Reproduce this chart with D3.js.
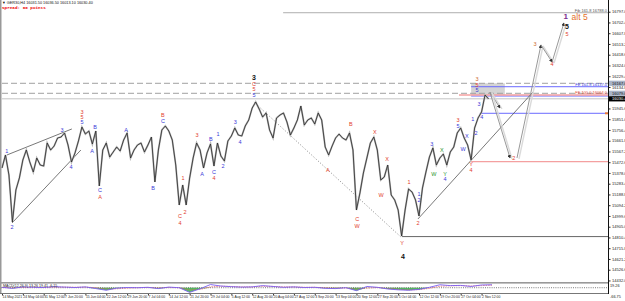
<!DOCTYPE html>
<html><head><meta charset="utf-8">
<script src="https://cdn.jsdelivr.net/npm/d3@7"></script>
<style>body{margin:0;background:#fff}svg{display:block;font-family:"Liberation Sans",Arial,sans-serif}</style>
</head><body><svg id="c" width="625" height="301"></svg>
<script>
// ---------- DATA ----------
const closes = [15421.6,15536,15360,14946.4,15228,15333.6,15492,15580,15474.4,15386.4,
15509.6,15448,15439.2,15641.6,15580,15615.2,15685.6,15694.4,15729.6,15624,
15474.4,15553.6,15659.2,15782.4,15720.8,15747.2,15632.8,15747.2,15263.2,15580,
15641.6,15518.4,15562.4,15606.4,15571.2,15668,15729.6,15509.6,15580,15624,
15641.6,15562.4,15624,15694.4,15298.4,15580,15756,15791.2,15747.2,15668,
15448,15096,15272,15096,15333.6,15509.6,15641.6,15580,15421.6,15553.6,
15632.8,15439.2,15641.6,15527.2,15483.2,15659.2,15703.2,15773.6,15712,15703.2,
15791.2,15844,15949.6,16002.4,15940.8,15870.4,15905.6,15756,15685.6,15861.6,
15888,15905.6,15826.4,15712,15773.6,15844,15967.2,15800,15844,15861.6,
15808.8,15905.6,15844,15606.4,15536,15615.2,15685.6,15720.8,15685.6,15668,
15729.6,15580,15052,15201.6,15377.6,15509.6,15641.6,15694.4,15580,15316,
15342.4,15448,15184,15140,15052,14823,15052,15236.8,15210.4,15140,
14999.2,15245.6,15386.4,15518.4,15597.6,15448,15509.6,15544.8,15448,15562.4,
15606.4,15729.6,15773.6,15685.6,15624,15492,15773.6,15861.6,15914.4,16064,16030.4];

const priceTicks = [16797.0,16702.4,16607.8,16513.2,16418.6,16324.0,16229.4,16134.8,16040.2,15945.6,
15851.0,15756.4,15661.8,15567.2,15472.6,15378.0,15283.4,15188.8,15094.2,14999.6,
14905.0,14810.4,14715.8,14621.2,14526.6,14432.0];

const timeLabels = ["14 May 2021","24 May 04:00","31 May 12:00","7 Jun 20:00","15 Jun 04:00","22 Jun 12:00",
"29 Jun 20:00","7 Jul 04:00","14 Jul 12:00","21 Jul 20:00","29 Jul 04:00","5 Aug 12:00","12 Aug 20:00",
"20 Aug 04:00","27 Aug 12:00","3 Sep 20:00","13 Sep 04:00","20 Sep 12:00","27 Sep 20:00","5 Oct 04:00",
"12 Oct 12:00","19 Oct 20:00","27 Oct 04:00","2 Nov 12:00"];
const barsPerLabel = 6;

const osc = [2,-3,4,2,1,5,3,1,4,-4,-12,-2,1,0,2,-4,3,0,-22,-5,15,8,5,3,4,10,6,2,4,1,
2,-3,-4,0,-14,6,2,-6,-10,-12,-8,2,14,10,11,6,13,14];
const oscSignal = [1,0,1,2,1,3,3,2,3,0,-6,-5,-2,0,1,-1,1,0,-10,-8,4,7,6,4,4,7,6,4,4,2,
2,0,-2,-1,-7,-2,1,-3,-7,-10,-9,-3,7,9,10,8,10,12];
const oscStep = 3;
const oscTicks = [19.26, -66.75];

// wave labels: [bar index, price, text, colour key, degree]
const waveLabels = [
[1.4,15571,"1","b"],[2.9,14902,"2","b"],[17.3,15756,"3","b"],[19.9,15430,"4","b"],
[23.0,15917,"3","r"],[23.0,15873,"5","r"],[23.0,15829,"5","b"],
[25.9,15571,"A","b"],[26.8,15782,"B","b"],[28.2,15228,"C","b"],[28.2,15166,"A","r"],
[35.7,15756,"A","b"],[43.5,15246,"B","b"],[46.3,15888,"B","r"],[46.3,15835,"C","b"],
[51.2,14999,"C","r"],[51.2,14938,"4","r"],[52.1,15334,"1","r"],[52.7,15034,"2","r"],
[56.1,15712,"3","r"],[57.6,15369,"A","b"],[60.1,15677,"B","b"],[61.0,15386,"C","b"],[61.0,15334,"4","r"],
[62.2,15721,"1","b"],[63.6,15439,"2","b"],[67.1,15826,"3","b"],[68.5,15650,"4","b"],
[72.5,16222,"3","k","L"],[72.5,16161,"C","r"],[72.5,16117,"5","r"],[72.5,16064,"5","b"],
[93.8,15404,"A","r"],[100.4,15809,"B","r"],[102.2,14973,"C","r"],[102.2,14911,"W","r"],
[107.3,15738,"X","r"],[109.1,15184,"W","r"],[110.8,15501,"X","r"],
[115.1,14762,"Y","r"],[115.4,14647,"4","k","L"],
[117.1,15298,"1","r"],[119.7,14938,"2","r"],[120.0,15193,"1","b"],[120.0,15140,"2","b"],
[123.7,15633,"3","b"],[124.3,15369,"W","g"],[126.6,15580,"X","g"],[127.5,15369,"Y","g"],[127.5,15325,"4","b"],
[131.2,15844,"3","r"],[131.2,15791,"5","b"],[132.7,15589,"W","b"],[133.8,15703,"X","b"],
[135.0,15457,"Y","r"],[135.0,15404,"4","r"],
[135.5,15853,"1","b"],[136.4,15730,"2","b"],[137.3,15985,"3","b"],[138.1,15870,"4","b"],
[136.7,16205,"3","o"],[136.7,16152,"5","r"],[136.7,16108,"5","b"],
[147.3,15510,"2","r"],[153.4,16513,"3","o"],[158.3,16337,"4","r"],
[162.6,16664,"5","k","L"],[162.6,16604,"5","r"],
[162.2,16752,"1","p","XL"]
];
const altLabel = [163.9,16752,"alt 5"];

// levels
const fibTarget = {start:80.9, price:16788, text:"Fib 161.8 16788.0"};
const dashedLevels = [16167, 16079];
const blueLevels = [{start:135,price:16137,text:"FE 161.8 16137.0"},{start:135,price:16055,text:""},{start:137.5,price:15903,text:""}];
const redLevels = [{start:131.5,price:16064,text:"FE 100.0 16064.0"},{start:135,price:15477,text:""}];
const lowLevel = {start:115.1, price:14818};
const zone = {x0:135, x1:144.7, p0:16167, p1:16064};

// trend lines [[idx,price],[idx,price]]
const wedgeUpper = [[1.4,15536],[20.1,15765]];
const wedgeLower = [[2.9,14938],[22.7,15580]];
const dottedLine = [[72.5,16002],[115.1,14806]];
const riseLine = [[119.7,14973],[152.8,16090]];

// projection
const projA = [[140.4,16090],[143.3,15950]];
const projB = [[140.4,16090],[146.2,15510]];
const projC = [[148.2,15510],[155.1,16504],[158.3,16354],[161.7,16698]];

const header = "\u25BC GER30,H4  16031.50 16036.50 16013.10 16030.40";
const spreadText = "Spread: 60 points";
const oscTitle = "MACD(12,26,9) 13.26 19.41 -6.15";

// ---------- DRAW ----------
const svg = d3.select("#c");
const plotR = 608, mainBot = 282, indTop = 283.5, indBot = 293;
const lastPrice = closes[closes.length-1];
const col = {b:"#3a3ad8", r:"#e2402c", k:"#111", g:"#2e962e", o:"#cc6a2e", p:"#7b2d8e"};

const x = d3.scaleLinear().domain([0, closes.length-1]).range([2, 2 + 3.475*(closes.length-1)]);
const y = d3.scaleLinear().domain([14418.4, 16900]).range([mainBot, 0]);

svg.append("rect").attr("width",625).attr("height",301).attr("fill","#fff");
const defs = svg.append("defs");
defs.append("clipPath").attr("id","clipMain").append("rect").attr("x",1).attr("y",0).attr("width",plotR-1).attr("height",mainBot);
defs.append("marker").attr("id","ah").attr("viewBox","0 0 6 6").attr("refX",5).attr("refY",3)
  .attr("markerWidth",4).attr("markerHeight",4).attr("orient","auto")
  .append("path").attr("d","M0,0L6,3L0,6Z").attr("fill","#333");

const main = svg.append("g").attr("clip-path","url(#clipMain)");

// zone rect
main.append("rect").attr("x",x(zone.x0)).attr("width",x(zone.x1)-x(zone.x0))
  .attr("y",y(zone.p0)).attr("height",y(zone.p1)-y(zone.p0)).attr("fill","#d4d4d4");

// horizontal levels
function hline(start, price, stroke, w, dash){
  main.append("line").attr("x1",x(start)).attr("x2",plotR).attr("y1",y(price)).attr("y2",y(price))
    .attr("stroke",stroke).attr("stroke-width",w).attr("stroke-dasharray",dash||null);
}
hline(0, lastPrice, "#c4c4c4", 1);
dashedLevels.forEach(p=>hline(0,p,"#a0a0a0",1,"6,3"));
hline(fibTarget.start, fibTarget.price, "#999", 0.8);
blueLevels.forEach(l=>hline(l.start,l.price,"#6a6aff",1));
redLevels.forEach(l=>hline(l.start,l.price,"#f4a0a0",1.3));
hline(lowLevel.start, lowLevel.price, "#555", 0.9);
main.append("rect").attr("x",plotR-3).attr("y",y(blueLevels[2].price)-1).attr("width",3).attr("height",2).attr("fill","#e87a3a");

// trend lines
const seg = d3.line().x(d=>x(d[0])).y(d=>y(d[1]));
main.append("path").attr("d",seg(wedgeUpper)).attr("stroke","#555").attr("stroke-width",0.8).attr("fill","none");
main.append("path").attr("d",seg(wedgeLower)).attr("stroke","#555").attr("stroke-width",0.8).attr("fill","none");
main.append("path").attr("d",seg(dottedLine)).attr("stroke","#666").attr("stroke-width",0.8).attr("stroke-dasharray","1,2").attr("fill","none");
main.append("path").attr("d",seg(riseLine)).attr("stroke","#555").attr("stroke-width",0.8).attr("fill","none");

// price
const priceLine = d3.line().x((d,i)=>x(i)).y(d=>y(d));
main.append("path").datum(closes).attr("d",priceLine)
  .attr("fill","none").attr("stroke","#b4b4b4").attr("stroke-width",1.8).attr("stroke-linejoin","miter");
main.append("path").datum(closes).attr("d",priceLine)
  .attr("fill","none").attr("stroke","#2a2a2a").attr("stroke-width",0.8).attr("stroke-linejoin","miter");

// projections
function proj(pts){
  for(let i=0;i<pts.length-1;i++){
    const a=pts[i], b=pts[i+1];
    main.append("line").attr("x1",x(a[0])+2).attr("y1",y(a[1])+1).attr("x2",x(b[0])+2).attr("y2",y(b[1])+1)
      .attr("stroke","#dadada").attr("stroke-width",1.4);
    main.append("line").attr("x1",x(a[0])).attr("y1",y(a[1])).attr("x2",x(b[0])).attr("y2",y(b[1]))
      .attr("stroke","#8c8c8c").attr("stroke-width",0.9).attr("marker-end","url(#ah)");
  }
}
proj(projA); proj(projB); proj(projC);

// wave labels
main.selectAll("text.w").data(waveLabels).join("text").attr("class","w")
  .attr("x",d=>x(d[0])).attr("y",d=>y(d[1]))
  .attr("text-anchor","middle").attr("dominant-baseline","central")
  .attr("font-size",d=>d[4]==="XL"?8:d[4]==="L"?7:5.5)
  .attr("font-weight",d=>d[4]?"bold":"normal")
  .attr("fill",d=>col[d[3]]).text(d=>d[2]);
main.append("text").attr("x",x(altLabel[0])).attr("y",y(altLabel[1])).attr("dominant-baseline","central")
  .attr("font-size",8.5).attr("fill","#e4702a").text(altLabel[2]);

// level texts
function ltext(price, t, fill){
  if(!t) return;
  svg.append("text").attr("x",plotR-1).attr("y",y(price)-1.2).attr("text-anchor","end")
    .attr("font-size",4).attr("fill",fill).text(t);
}
ltext(fibTarget.price, fibTarget.text, "#555");
blueLevels.forEach(l=>ltext(l.price,l.text,"#3a3ad8"));
redLevels.forEach(l=>ltext(l.price,l.text,"#e2402c"));

// indicator panel
const yo = d3.scaleLinear().domain([-25,20]).range([indBot,indTop]);
const ox = (d,i)=>x(i*oscStep);
const ind = svg.append("g");
ind.append("path").datum(osc).attr("d",d3.area().x(ox).y0(yo(0)).y1(d=>yo(Math.min(d,0))))
  .attr("fill","#39b54a").attr("opacity",0.85);
ind.append("line").attr("x1",1).attr("x2",plotR).attr("y1",yo(0)).attr("y2",yo(0))
  .attr("stroke","#222").attr("stroke-width",0.6).attr("stroke-dasharray","1,1.2");
ind.append("path").datum(oscSignal).attr("d",d3.line().x(ox).y(d=>yo(d)))
  .attr("fill","none").attr("stroke","#e05050").attr("stroke-width",0.7).attr("stroke-dasharray","1.5,1");
ind.append("path").datum(osc).attr("d",d3.line().x(ox).y(d=>yo(d)))
  .attr("fill","none").attr("stroke","#7a5cf0").attr("stroke-width",0.9);
ind.append("text").attr("x",3).attr("y",indTop+3.6).attr("font-size",3.6).attr("fill","#222").text(oscTitle);
ind.selectAll("text.ot").data(oscTicks).join("text").attr("class","ot")
  .attr("x",plotR+2).attr("y",d=>Math.max(indTop+2, Math.min(indBot+4, yo(d)))+1.2)
  .attr("font-size",3.8).attr("fill","#222").text(d=>d.toFixed(2));

// frame
svg.append("rect").attr("x",0).attr("y",0).attr("width",1.5).attr("height",indBot).attr("fill","#999");
svg.append("rect").attr("x",0).attr("y",mainBot).attr("width",plotR).attr("height",1.6).attr("fill","#999");
svg.append("line").attr("x1",0).attr("x2",plotR).attr("y1",indBot+0.5).attr("y2",indBot+0.5).attr("stroke","#777").attr("stroke-width",1);
svg.append("line").attr("x1",plotR+0.5).attr("x2",plotR+0.5).attr("y1",0).attr("y2",indBot+1).attr("stroke","#111").attr("stroke-width",1);

// price axis
const ya = svg.append("g").attr("transform",`translate(${plotR+0.5},0)`)
  .call(d3.axisRight(y).tickValues(priceTicks).tickSize(2).tickPadding(1.5).tickFormat(d3.format(".1f")));
ya.attr("font-size",4).attr("font-family","Liberation Sans, Arial, sans-serif");
ya.select(".domain").remove();
ya.selectAll("line").attr("stroke","#222");
ya.selectAll("text").attr("fill","#222");

// highlighted price labels
function tag(price, bg, fg){
  const g = svg.append("g");
  g.append("rect").attr("x",plotR+1).attr("y",y(price)-2.6).attr("width",625-plotR-1).attr("height",5.2).attr("fill",bg);
  g.append("text").attr("x",plotR+4).attr("y",y(price)).attr("dominant-baseline","central")
    .attr("font-size",4).attr("fill",fg).text(d3.format(".1f")(price));
}
dashedLevels.forEach(p=>tag(p,"#a9b4c8","#111"));
tag(lastPrice,"#000","#fff");

// time axis
const xa = svg.append("g").attr("transform",`translate(0,${indBot+1})`)
  .call(d3.axisBottom(x).tickValues(timeLabels.map((_,k)=>k*barsPerLabel)).tickSize(1.5)
  .tickFormat((d,k)=>timeLabels[k]));
xa.attr("font-size",3.4).attr("font-family","Liberation Sans, Arial, sans-serif");
xa.select(".domain").remove();
xa.selectAll("line").attr("stroke","#333");
xa.selectAll("text").attr("text-anchor","start").attr("y",1.8).attr("fill","#222");

// header
svg.append("text").attr("x",2).attr("y",4.2).attr("font-size",3.8).attr("fill","#111").text(header);
svg.append("text").attr("x",2).attr("y",9).attr("font-size",4.3).attr("font-weight","bold")
  .attr("font-family","Liberation Mono, monospace").attr("fill","#e00").text(spreadText);
</script>
</body></html>
